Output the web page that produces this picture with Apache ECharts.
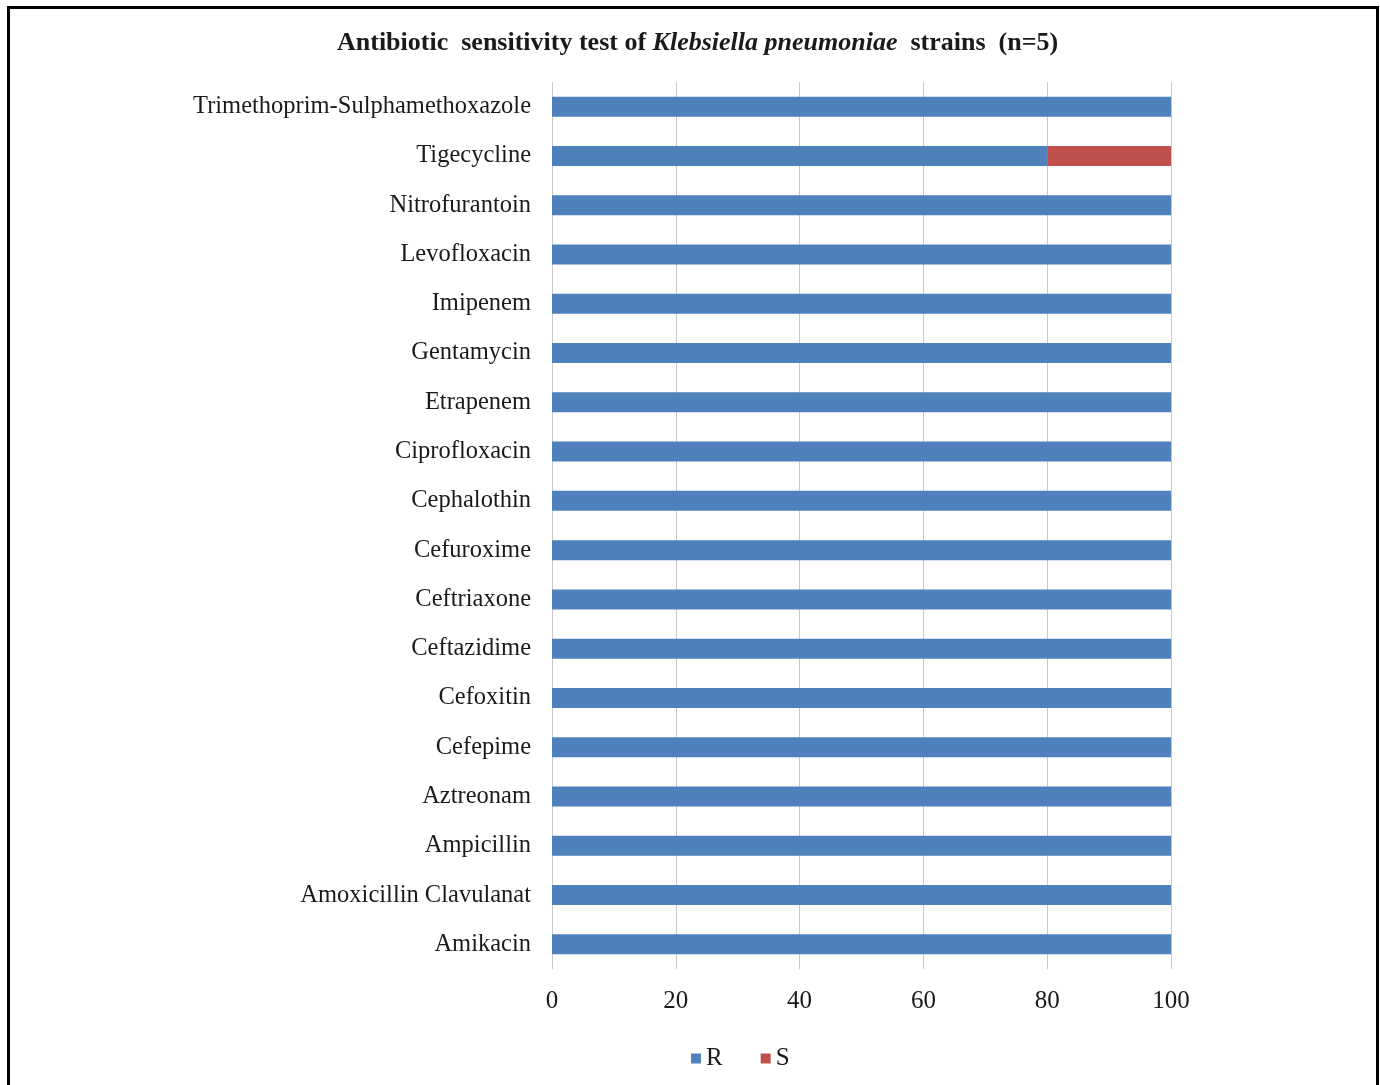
<!DOCTYPE html>
<html>
<head>
<meta charset="utf-8">
<title>Antibiotic sensitivity test of Klebsiella pneumoniae strains</title>
<script src="https://cdn.jsdelivr.net/npm/echarts@6/dist/echarts.min.js"></script>
<style>
  html, body { margin: 0; padding: 0; background: #ffffff; }
  #chart { width: 1380px; height: 1085px; }
</style>
</head>
<body>
<div id="chart"></div>
<script>
// Antibiotics, listed bottom to top as they appear on the category axis
const antibiotics = [
  'Amikacin',
  'Amoxicillin Clavulanat',
  'Ampicillin',
  'Aztreonam',
  'Cefepime',
  'Cefoxitin',
  'Ceftazidime',
  'Ceftriaxone',
  'Cefuroxime',
  'Cephalothin',
  'Ciprofloxacin',
  'Etrapenem',
  'Gentamycin',
  'Imipenem',
  'Levofloxacin',
  'Nitrofurantoin',
  'Tigecycline',
  'Trimethoprim-Sulphamethoxazole'
];

// Percentage of strains resistant (R) and sensitive (S)
const resistant = [100, 100, 100, 100, 100, 100, 100, 100, 100, 100, 100, 100, 100, 100, 100, 100, 80, 100];
const sensitive = [0, 0, 0, 0, 0, 0, 0, 0, 0, 0, 0, 0, 0, 0, 0, 0, 20, 0];

const xTicks = { min: 0, max: 100, interval: 20 };

const serif = '"Liberation Serif", "DejaVu Serif", serif';

const chart = echarts.init(document.getElementById('chart'));

chart.setOption({
  backgroundColor: '#ffffff',
  animation: false,
  title: {
    text: '{b|Antibiotic  sensitivity test of }{bi|Klebsiella pneumoniae}{b|  strains  (n=5)}',
    left: 332,
    top: 25,
    textStyle: {
      rich: {
        b: { fontFamily: serif, fontWeight: 'bold', fontSize: 26, color: '#1a1a1a' },
        bi: { fontFamily: serif, fontWeight: 'bold', fontStyle: 'italic', fontSize: 26, color: '#1a1a1a' }
      }
    }
  },
  graphic: [{
    type: 'rect',
    silent: true,
    z: 100,
    shape: { x: 8.5, y: 7.5, width: 1369, height: 1100 },
    style: { fill: null, stroke: '#000000', lineWidth: 3 }
  }],
  legend: {
    data: ['R', 'S'],
    left: 686,
    top: 1041,
    icon: 'rect',
    itemWidth: 10,
    itemHeight: 10,
    itemGap: 38,
    textStyle: { fontFamily: serif, fontSize: 25, color: '#1a1a1a' }
  },
  grid: {
    left: 552,
    right: 209,
    top: 82,
    bottom: 116,
    containLabel: false
  },
  xAxis: {
    type: 'value',
    min: xTicks.min,
    max: xTicks.max,
    interval: xTicks.interval,
    axisLine: { show: false },
    axisTick: { show: false },
    splitLine: { show: true, lineStyle: { color: '#c8c8c8', width: 1 } },
    axisLabel: { margin: 20, fontFamily: serif, fontSize: 25, color: '#1a1a1a' }
  },
  yAxis: {
    type: 'category',
    data: antibiotics,
    axisLine: { show: false },
    axisTick: { show: false },
    axisLabel: { margin: 21, fontFamily: serif, fontSize: 24.5, color: '#1a1a1a' }
  },
  series: [
    {
      name: 'R',
      type: 'bar',
      stack: 'total',
      data: resistant,
      barWidth: 20,
      itemStyle: { color: '#4f81bd' }
    },
    {
      name: 'S',
      type: 'bar',
      stack: 'total',
      data: sensitive,
      barWidth: 20,
      itemStyle: { color: '#c0504d' }
    }
  ]
});
</script>
</body>
</html>
